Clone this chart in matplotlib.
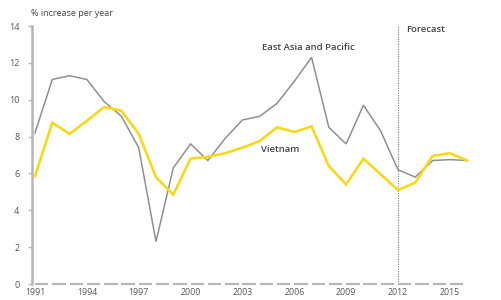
import matplotlib
matplotlib.use("Agg")
import matplotlib.pyplot as plt

# datos
years = list(range(1991, 2017))
east_asia = [8.2, 11.1, 11.3, 11.1, 9.9, 9.1, 7.4, 2.3, 6.3, 7.6, 6.7, 7.9, 8.9,
             9.1, 9.8, 11.0, 12.3, 8.5, 7.6, 9.7, 8.3, 6.2, 5.8, 6.7, 6.75, 6.7]
vietnam = [5.85, 8.75, 8.15, 8.85, 9.6, 9.4, 8.15, 5.8, 4.85, 6.8, 6.9, 7.1, 7.4,
           7.75, 8.5, 8.25, 8.55, 6.4, 5.4, 6.8, 5.95, 5.1, 5.5, 6.95, 7.1, 6.7]
x_ticks = [1991, 1994, 1997, 2000, 2003, 2006, 2009, 2012, 2015]
y_ticks = [0, 2, 4, 6, 8, 10, 12, 14]
forecast_year = 2012

plt.rcParams['font.family'] = ['Open Sans', 'DejaVu Sans']

W, H = 501, 300
fig = plt.figure(figsize=(W / 100, H / 100), dpi=100)

# ejes en pixeles
px_year = (398 - 35) / 21
left_px, right_px = 32, 482
bottom_px, top_px = 284, 26
ax = fig.add_axes([left_px / W, (H - bottom_px) / H,
                   (right_px - left_px) / W, (bottom_px - top_px) / H])
x0 = 1991 - (35 - left_px) / px_year
x1 = 1991 + (right_px - 35) / px_year
ax.set_xlim(x0, x1)
ax.set_ylim(0, 14)

grey_axis = '#b5b5b5'
text_col = '#555555'

ax.plot(years, east_asia, color='#8f8f8f', lw=1.1, solid_joinstyle='miter', zorder=3)
ax.plot(years, vietnam, color='#f7d917', lw=1.9, solid_joinstyle='miter', zorder=4)

# linea de pronostico
ax.axvline(forecast_year, ymin=0, ymax=1.0, color='#777777', lw=0.8,
           linestyle=(0, (1, 1.2)), zorder=2)

# eje x discontinuo: un trazo por año
for y in years[:-1]:
    ax.plot([y, y + 0.78], [0, 0], color=grey_axis, lw=1.5,
            solid_capstyle='butt', clip_on=False, zorder=2)

for s in ['top', 'right', 'bottom']:
    ax.spines[s].set_visible(False)
ax.spines['left'].set_color(grey_axis)
ax.spines['left'].set_linewidth(1.8)

ax.set_yticks(y_ticks)
ax.set_xticks(x_ticks)
ax.set_xticklabels([str(t) for t in x_ticks])
ax.tick_params(axis='y', length=3, width=1, color=grey_axis, labelsize=6.5,
               labelcolor=text_col, pad=6)
ax.tick_params(axis='x', length=0, labelsize=6.3, labelcolor=text_col, pad=3)

fig.text(31 / W, 1 - 13 / H, '% increase per year', fontsize=6.5, color='#444444',
         ha='left', va='center')
fig.text(308 / W, 1 - 47 / H, 'East Asia and Pacific', fontsize=6.8, color='#444444',
         ha='center', va='center', fontweight='semibold')
fig.text(280 / W, 1 - 150 / H, 'Vietnam', fontsize=6.8, color='#444444',
         ha='center', va='center', fontweight='semibold')
fig.text(406 / W, 1 - 30 / H, 'Forecast', fontsize=6.8, color='#444444',
         ha='left', va='center', fontweight='semibold')

fig.savefig('out.png', dpi=100)
